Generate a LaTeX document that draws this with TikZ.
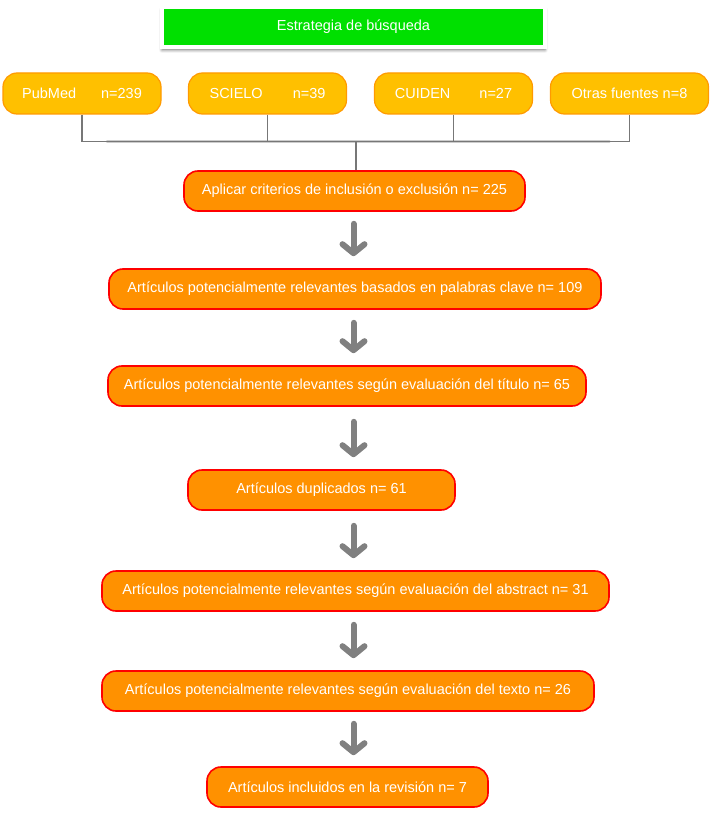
\documentclass[tikz,border=0pt]{standalone}
\usepackage{fontspec}
\setmainfont{Liberation Sans}
\usepackage{xcolor}
\usetikzlibrary{arrows.meta,positioning,shadows.blur}

\definecolor{verdeCab}{HTML}{00E000}
\definecolor{amarilloF}{HTML}{FFC000}
\definecolor{bordeF}{HTML}{FF9A00}
\definecolor{naranjaP}{HTML}{FF9100}
\definecolor{grisL}{HTML}{777777}
\definecolor{grisF}{HTML}{808080}

\begin{document}
\begin{tikzpicture}[
    x=1pt, y=-1pt,
    font=\fontsize{14.5}{17}\selectfont,
    cabecera/.style={rectangle, fill=verdeCab, draw=white, line width=4pt, text=white,
        minimum width=383, minimum height=40,
        blur shadow={shadow xshift=0pt, shadow yshift=-3pt, shadow opacity=55, shadow blur radius=3pt}},
    fuente/.style={rectangle, rounded corners=14pt, fill=amarilloF, draw=bordeF, line width=1.2pt,
        text=white, minimum width=158, minimum height=41, inner sep=0pt},
    paso/.style={rectangle, rounded corners=14pt, fill=naranjaP, draw=red, line width=1.6pt,
        text=white, minimum height=40, inner sep=0pt},
    linea/.style={grisL, line width=1.5pt},
    flecha/.style={grisF, line width=6pt, line cap=round,
        -{Straight Barb[round, length=9pt, width=22pt]}}
]
\useasboundingbox (0,0) rectangle (715,813);

% Header
\node[cabecera] (cab) at (353.5,27) {Estrategia de búsqueda};

% Sources
\node[fuente] (pub) at (82,93.5)    {PubMed\hspace{25pt}n=239};
\node[fuente] (sci) at (267.5,93.5) {SCIELO\hspace{30pt}n=39};
\node[fuente] (cui) at (453.5,93.5) {CUIDEN\hspace{29pt}n=27};
\node[fuente] (otr) at (629.5,93.5) {Otras fuentes n=8};

% Steps
\node[paso, minimum width=341] (b1) at (354.5,191) {Aplicar criterios de inclusión o exclusión n= 225};
\node[paso, minimum width=492] (b2) at (355,289)   {Artículos potencialmente relevantes basados en palabras clave n= 109};
\node[paso, minimum width=478] (b3) at (347,386)   {Artículos potencialmente relevantes según evaluación del título n= 65};
\node[paso, minimum width=267] (b4) at (321.5,490) {Artículos duplicados n= 61};
\node[paso, minimum width=507] (b5) at (355.5,591) {Artículos potencialmente relevantes según evaluación del abstract n= 31};
\node[paso, minimum width=492] (b6) at (348,691)   {Artículos potencialmente relevantes según evaluación del texto n= 26};
\node[paso, minimum width=281] (b7) at (347.5,787) {Artículos incluidos en la revisión n= 7};

% Joining bracket
\coordinate (union) at (356,141.5);
\coordinate (eje) at (353.5,0);
\foreach \o/\op in {2/0.16, 4/0.13, 6/0.10, 8/0.06, 10/0.03}
    \draw[gray, line width=2.5pt, opacity=\op, line cap=round, shift={(0,\o)}]
        ([xshift=25pt]pub.south |- union) -- ([xshift=-20pt]otr.south |- union);
\draw[linea] (pub.south) -- (pub.south |- union) -- (otr.south |- union) -- (otr.south);
\draw[linea] (sci.south) -- (sci.south |- union);
\draw[linea] (cui.south) -- (cui.south |- union);
\draw[linea] (union) -- (b1.north -| union);

% Arrows between steps
\draw[flecha, shorten <=12pt, shorten >=12pt] (b1.south -| eje) -- (b2.north -| eje);
\draw[flecha, shorten <=13pt, shorten >=12pt] (b2.south -| eje) -- (b3.north -| eje);
\draw[flecha, shorten <=15pt, shorten >=12pt] (b3.south -| eje) -- (b4.north -| eje);
\draw[flecha, shorten <=15pt, shorten >=12pt] (b4.south -| eje) -- (b5.north -| eje);
\draw[flecha, shorten <=13pt, shorten >=12pt] (b5.south -| eje) -- (b6.north -| eje);
\draw[flecha, shorten <=12pt, shorten >=11pt] (b6.south -| eje) -- (b7.north -| eje);
\end{tikzpicture}
\end{document}
